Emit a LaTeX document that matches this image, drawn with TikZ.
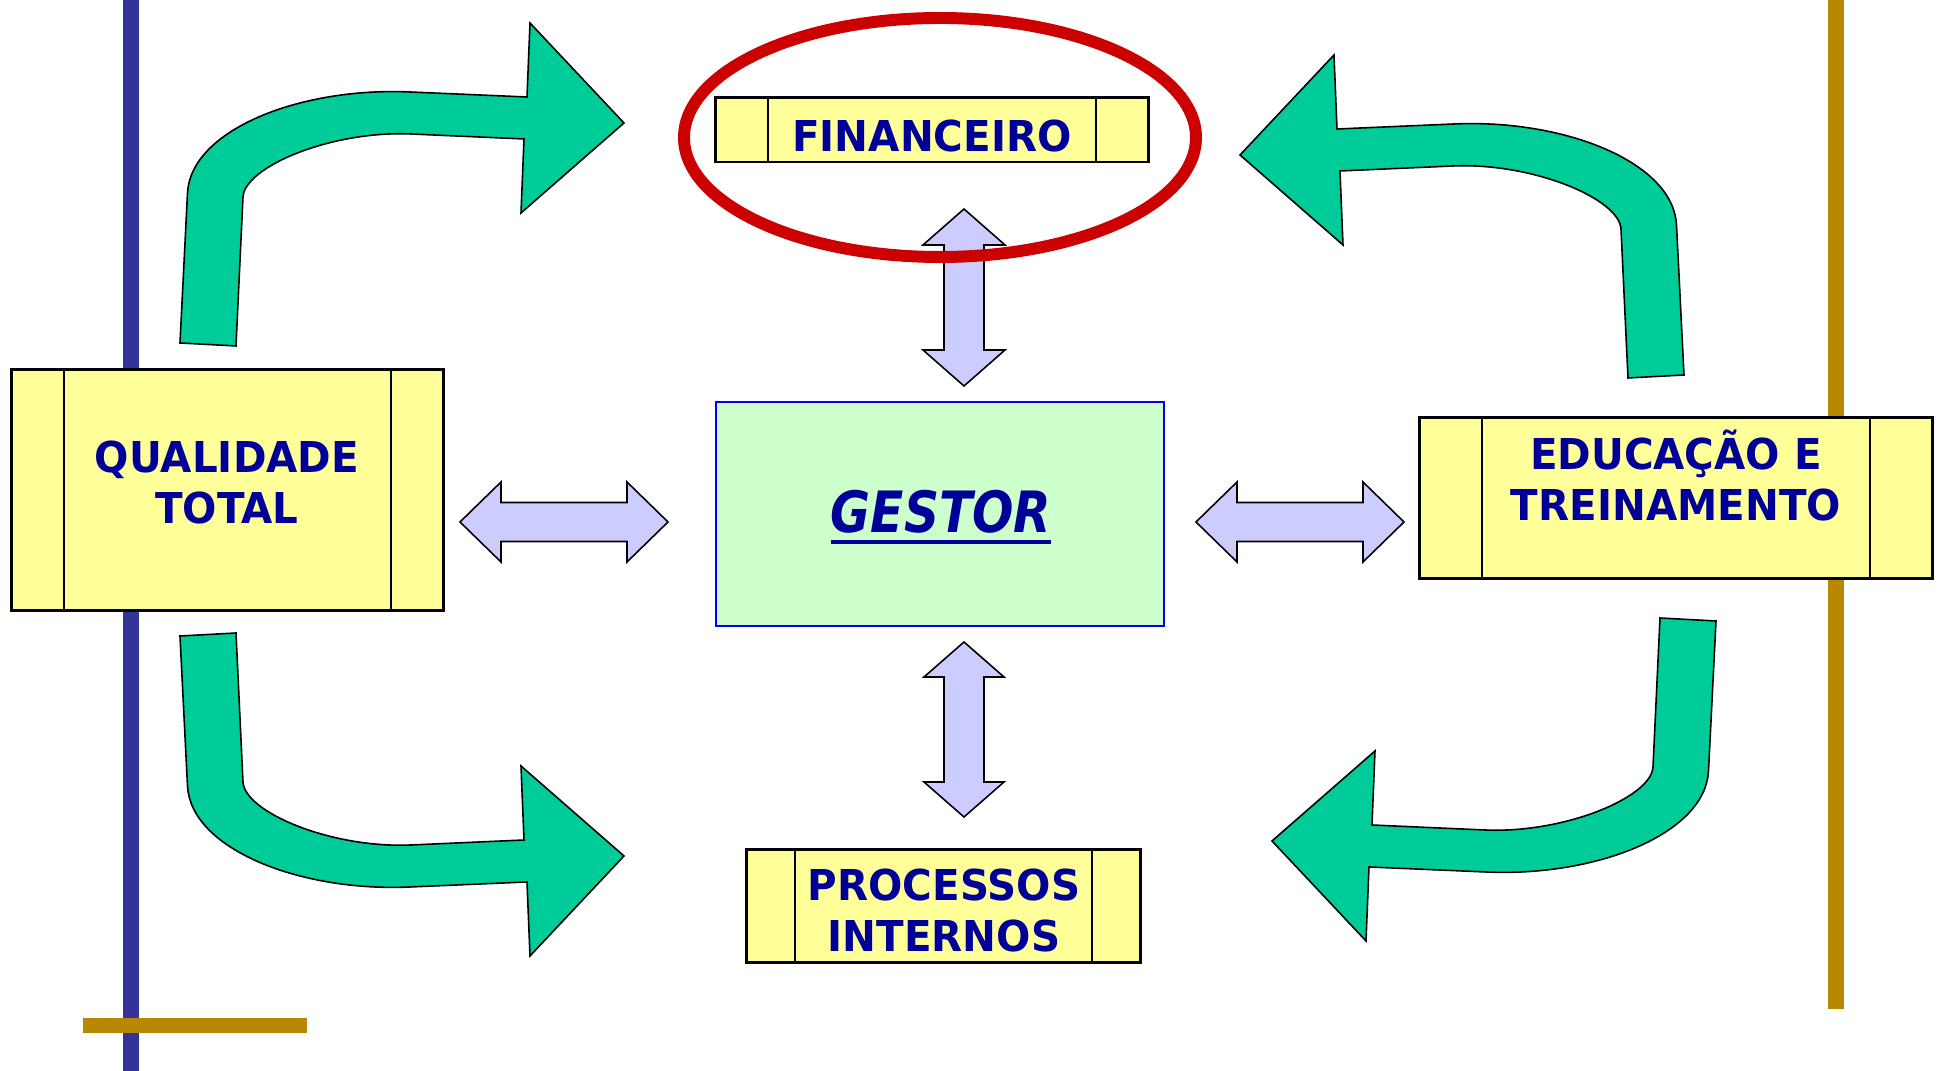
\documentclass[tikz,border=0pt]{standalone}
\usepackage{fontspec}
\usetikzlibrary{calc}
\newfontfamily\lblfont{DejaVu Sans}[FakeStretch=0.95]

\definecolor{railblue}{RGB}{51,51,153}
\definecolor{railgold}{RGB}{184,136,0}
\definecolor{boxyellow}{RGB}{255,255,153}
\definecolor{coremint}{RGB}{204,255,204}
\definecolor{coreedge}{RGB}{0,0,255}
\definecolor{labelnavy}{RGB}{0,0,153}
\definecolor{turngreen}{RGB}{0,204,153}
\definecolor{linklav}{RGB}{204,204,255}
\definecolor{ringred}{RGB}{204,0,0}

% two-headed block arrow: centre x, centre y, angle, half length, head length, half head width, half shaft width
\newcommand\linkarrow[7]{%
  \begin{scope}[shift={(#1,#2)}, rotate=#3]
    \draw[link] ({-#4},0) -- ({-#4+#5},{-#6}) -- ({-#4+#5},{-#7}) -- ({#4-#5},{-#7})
      -- ({#4-#5},{-#6}) -- ({#4},0) -- ({#4-#5},{#6}) -- ({#4-#5},{#7})
      -- ({-#4+#5},{#7}) -- ({-#4+#5},{#6}) -- cycle;
  \end{scope}}

% bent block arrow, drawn in its upper-left orientation
\newcommand\bentarrow{%
  \draw[turn] (180,343) -- (187.5,193) .. controls (190.7,130) and (300,87) .. (410,92)
    -- (527,97) -- (530,23) -- (624,123) -- (521,213) -- (524,139) -- (411,134)
    .. controls (331,130.5) and (244.5,167) .. (243,197) -- (236,346) -- cycle;}

\begin{document}
\begin{tikzpicture}[x=0.01cm, y=-0.01cm, line join=miter,
  panel/.style={draw=black, line width=0.85pt, fill=boxyellow, inner sep=0pt, outer sep=0pt},
  divider/.style={draw=black, line width=0.6pt},
  core/.style={draw=coreedge, line width=0.6pt, fill=coremint, inner sep=0pt, outer sep=0pt},
  lbl/.style={text=labelnavy, font={\lblfont\bfseries\fontsize{12.1}{14}\selectfont}, anchor=base, inner sep=0pt, outer sep=0pt},
  turn/.style={fill=turngreen, draw=black, line width=0.45pt},
  link/.style={fill=linklav, draw=black, line width=0.45pt},
  rail/.style={line width=4.3pt}]

\useasboundingbox (0,0) rectangle (1941,1071);

% side rails
\draw[rail, railblue] (131,0) -- (131,1071);
\draw[rail, railgold] (1836,0) -- (1836,1009);
\draw[rail, railgold] (83,1025.5) -- (307,1025.5);

% perspective boxes
\node[panel, minimum width=4.32cm, minimum height=0.64cm] (fin) at (932,130) {};
\node[panel, minimum width=4.31cm, minimum height=2.40cm] (qual) at (227.5,490) {};
\node[panel, minimum width=5.12cm, minimum height=1.60cm] (edu) at (1676,498) {};
\node[panel, minimum width=3.93cm, minimum height=1.12cm] (proc) at (943.5,906) {};
\node[core, minimum width=4.48cm, minimum height=2.24cm] (gestor) at (940,514) {};

% side panels of each box
\foreach \b/\d in {fin/52, qual/52, edu/62, proc/48}{
  \draw[divider] ($(\b.north west)+(\d,0)$) -- ($(\b.south west)+(\d,0)$);
  \draw[divider] ($(\b.north east)+(-\d,0)$) -- ($(\b.south east)+(-\d,0)$);
}

% two-way links around the manager
\linkarrow{964}{297.5}{90}{88.5}{36}{41}{20}
\linkarrow{964}{729.5}{90}{87.5}{35}{40}{20}
\linkarrow{564}{522}{0}{104}{41}{40}{19.5}
\linkarrow{1300}{522}{0}{104}{41}{40}{19.5}

% bent arrows in the four corners
\bentarrow
\begin{scope}[shift={(1864,32)}, xscale=-1]\bentarrow\end{scope}
\begin{scope}[shift={(0,979)}, yscale=-1]\bentarrow\end{scope}
\begin{scope}[shift={(1896,964)}, xscale=-1, yscale=-1]\bentarrow\end{scope}

% highlight ring
\draw[ringred, line width=3.4pt] (940,137.5) ellipse [x radius=256, y radius=119.5];

% labels
\node[lbl] (finT) at (932,152) {FINANCEIRO};
\node[lbl] (qualA) at (227,473) {QUALIDADE};
\node[lbl] (qualB) at (227,524) {TOTAL};
\node[lbl] (eduA) at (1676,470) {EDUCAÇÃO E};
\node[lbl] (eduB) at (1676,521) {TREINAMENTO};
\node[lbl] (procA) at (944,901) {PROCESSOS};
\node[lbl] (procB) at (944,952) {INTERNOS};
\node[lbl, font={\lblfont\bfseries\itshape\fontsize{16.2}{18}\selectfont}] (gestorT) at (941,533) {\scalebox{0.9}[1]{GESTOR}};
\draw[labelnavy, line width=1.15pt] ($(gestorT.base west)+(0,9)$) -- ($(gestorT.base east)+(0,9)$);

\end{tikzpicture}
\end{document}
